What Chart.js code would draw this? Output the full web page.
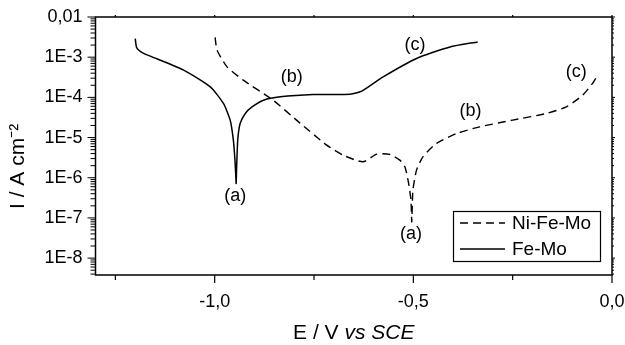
<!DOCTYPE html>
<html><head><meta charset="utf-8">
<script src="https://cdn.jsdelivr.net/npm/chart.js@4.4.0/dist/chart.umd.min.js"></script>
<style>html,body{margin:0;padding:0;background:#fff;}#wrap{width:625px;height:345px;}</style>
</head><body><div id="wrap"><canvas id="c" width="625" height="345"></canvas></div>
<script>
// ---- data (E in V vs SCE, I in A cm-2) ----
const feMoE = [-1.200,-1.197,-1.191,-1.179,-1.162,-1.078,-1.011,-0.978,-0.961,-0.953,-0.949,-0.947,-0.946,
               -0.945,-0.942,-0.936,-0.923,-0.906,-0.877,-0.835,-0.752,-0.659,-0.630,-0.576,-0.492,-0.408,-0.338];
const feMoI = [2.9e-3,1.8e-3,1.49e-3,1.24e-3,1.06e-3,4.75e-4,1.82e-4,7.05e-5,2.71e-5,8.6e-6,2.74e-6,1.16e-6,7.2e-7,
               1.55e-6,8.6e-6,2.24e-5,3.98e-5,5.8e-5,8.5e-5,1.03e-4,1.18e-4,1.2e-4,1.43e-4,3.24e-4,9.3e-4,1.8e-3,2.4e-3];
const niFeMoE = [-0.999,-0.994,-0.969,-0.928,-0.853,-0.785,-0.718,-0.677,-0.627,-0.592,-0.559,-0.534,-0.521,-0.512,-0.506,-0.504,
                 -0.501,-0.492,-0.476,-0.442,-0.391,-0.333,-0.250,-0.165,-0.115,-0.074,-0.049,-0.036];
const niFeMoI = [3.1e-3,1.49e-3,5.74e-4,2.68e-4,8.5e-5,2.28e-5,6.47e-6,3.65e-6,2.49e-6,3.86e-6,3.8e-6,2.74e-6,1.84e-6,7.35e-7,2.77e-7,8.0e-8,
                 4.92e-7,1.55e-6,3.31e-6,7.13e-6,1.26e-5,1.85e-5,2.71e-5,3.98e-5,5.8e-5,1.13e-4,2.22e-4,3.56e-4];
const seriesLabels = ['Ni-Fe-Mo','Fe-Mo'];
const xTickValues = [-1.0,-0.5,0.0];
const xTickLabels = ['-1,0','-0,5','0,0'];
const xMinorTicks = [-1.25,-0.75,-0.25];
const yTickValues = [1e-8,1e-7,1e-6,1e-5,1e-4,1e-3,1e-2];
const yTickLabels = ['1E-8','1E-7','1E-6','1E-5','1E-4','1E-3','0,01'];
const xTitleParts = ['E / V ', 'vs SCE'];
const annotations = [
  {text:'(a)', E:-0.948, I:3.48e-7},
  {text:'(b)', E:-0.806, I:3.13e-4},
  {text:'(c)', E:-0.496, I:1.99e-3},
  {text:'(a)', E:-0.506, I:3.95e-8},
  {text:'(b)', E:-0.356, I:4.54e-5},
  {text:'(c)', E:-0.090, I:4.3e-4}
];
const X_MIN=-1.3, X_MAX=0.0, Y_MIN=3.8e-9, Y_MAX=1e-2;

const FONT = '"Liberation Sans", Arial, Helvetica, sans-serif';
const toPts = (xs, ys) => xs.map((x,i)=>({x:x, y:ys[i]}));

const framePlugin = {
  id:'frame',
  afterDatasetsDraw(chart){
    const {ctx, chartArea:a, scales:{x,y}} = chart;
    ctx.save();
    ctx.strokeStyle='#000'; ctx.lineWidth=1.5;
    ctx.strokeRect(a.left, a.top, a.right-a.left, a.bottom-a.top);
    ctx.lineWidth=1.2;
    const line=(x1,y1,x2,y2)=>{ctx.beginPath();ctx.moveTo(x1,y1);ctx.lineTo(x2,y2);ctx.stroke();};
    // x ticks
    xTickValues.forEach(v=>{const px=x.getPixelForValue(v); line(px,a.bottom,px,a.bottom+8); line(px,a.top,px,a.top-2);});
    xMinorTicks.forEach(v=>{const px=x.getPixelForValue(v); line(px,a.bottom,px,a.bottom+5); line(px,a.top,px,a.top-2);});
    // y ticks
    ctx.lineWidth=1;
    yTickValues.forEach(v=>{const py=y.getPixelForValue(v); if(py<a.top-0.5||py>a.bottom+0.5) return; line(a.left,py,a.left-8,py); line(a.right,py,a.right+3,py);});
    for (let d=1e-9; d<1e-2*0.99; d*=10){
      for (let k=2;k<=9;k++){
        const v=d*k; if(v<Y_MIN||v>Y_MAX) continue;
        const py=y.getPixelForValue(v);
        line(a.left,py,a.left-5,py); line(a.right,py,a.right+2,py);
      }
    }
    // annotations
    ctx.fillStyle='#000'; ctx.font='18px '+FONT; ctx.textAlign='center'; ctx.textBaseline='middle';
    annotations.forEach(t=>ctx.fillText(t.text, x.getPixelForValue(t.E), y.getPixelForValue(t.I)));
    // x axis title (mixed upright / italic)
    const fN='21px '+FONT, fI='italic 21px '+FONT;
    ctx.font=fN; const w1=ctx.measureText(xTitleParts[0]).width;
    ctx.font=fI; const w2=ctx.measureText(xTitleParts[1]).width;
    const cx=(a.left+a.right)/2, ty=chart.height-12;
    ctx.textAlign='left';
    ctx.font=fN; ctx.fillText(xTitleParts[0], cx-(w1+w2)/2, ty);
    ctx.font=fI; ctx.fillText(xTitleParts[1], cx-(w1+w2)/2+w1, ty);
    // legend
    const bw=147, bh=50, bx=a.right-12-bw, by=a.bottom-14-bh;
    ctx.lineWidth=1.2; ctx.strokeRect(bx+0.5,by+0.5,bw,bh);
    ctx.font='19px '+FONT; ctx.textAlign='left';
    chart.data.datasets.forEach((ds,i)=>{
      const ly = by+12+i*26;
      ctx.save(); ctx.lineWidth=ds.borderWidth; ctx.setLineDash(ds.borderDash||[]);
      line(bx+7,ly,bx+52,ly); ctx.restore();
      ctx.fillText(ds.label, bx+59, ly+1);
    });
    ctx.restore();
  }
};

new Chart(document.getElementById('c'), {
  type:'scatter',
  data:{datasets:[
    {label:seriesLabels[0], data:toPts(niFeMoE,niFeMoI), showLine:true, borderColor:'#000', backgroundColor:'#000',
     borderWidth:1.4, borderDash:[8,5], pointRadius:0, tension:0.2, fill:false},
    {label:seriesLabels[1], data:toPts(feMoE,feMoI), showLine:true, borderColor:'#000', backgroundColor:'#000',
     borderWidth:1.5, pointRadius:0, tension:0.2, fill:false}
  ]},
  options:{
    responsive:false, animation:false, devicePixelRatio:1,
    layout:{padding:{top:17,right:13,left:0,bottom:0}},
    plugins:{legend:{display:false}, tooltip:{enabled:false}},
    scales:{
      x:{type:'linear', min:X_MIN, max:X_MAX, position:'bottom',
         afterBuildTicks:s=>{s.ticks=xTickValues.map(v=>({value:v}));},
         afterFit:s=>{s.height=70; s.paddingLeft=0; s.paddingRight=0;},
         ticks:{callback:(v,i)=>xTickLabels[i], color:'#000', font:{family:FONT,size:18}, padding:16, maxRotation:0, autoSkip:false},
         grid:{display:false, drawTicks:false}, border:{display:false},
         title:{display:false}},
      y:{type:'logarithmic', min:Y_MIN, max:Y_MAX,
         afterBuildTicks:s=>{s.ticks=yTickValues.map(v=>({value:v}));},
         afterFit:s=>{s.width=95.5; s.paddingTop=0; s.paddingBottom=0;},
         ticks:{callback:(v,i)=>yTickLabels[i], color:'#000', font:{family:FONT,size:18}, padding:13, autoSkip:false},
         grid:{display:false, drawTicks:false}, border:{display:false},
         title:{display:true, text:'I / A cm\u207B\u00B2       ', color:'#000', font:{family:FONT,size:21}, padding:{top:6,bottom:0}}}
    }
  },
  plugins:[framePlugin]
});
</script></body></html>
